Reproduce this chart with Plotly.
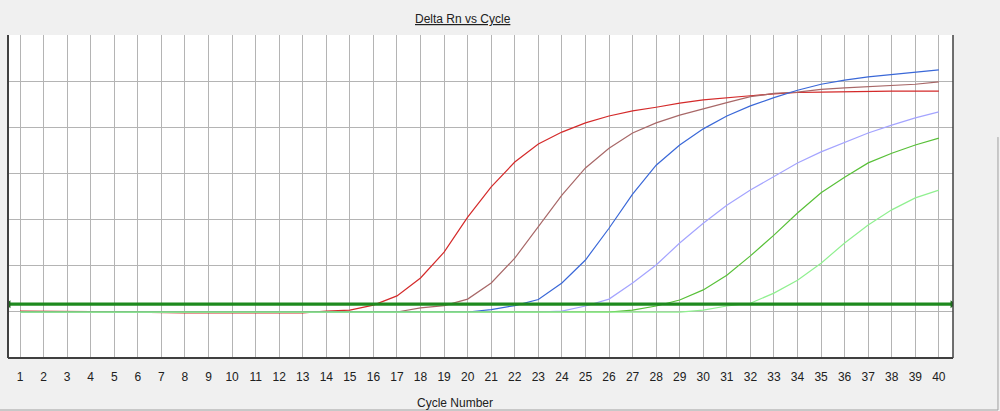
import plotly.graph_objects as go

cycles = list(range(1, 41))

red = [0.0, 0.0, 0.0, -0.01, -0.02, -0.03, -0.04, -0.04, -0.04, -0.04, -0.04, -0.04, -0.04, 0.0,
       0.02, 0.13, 0.33, 0.72, 1.28, 2.04, 2.70, 3.24, 3.63, 3.89, 4.09, 4.24, 4.35, 4.43, 4.52, 4.59,
       4.64, 4.68, 4.72, 4.75, 4.76, 4.77, 4.77, 4.78, 4.78, 4.78]
brown = [-0.02] * 16 + [-0.02, 0.07, 0.12, 0.26, 0.61, 1.15, 1.83, 2.52, 3.11, 3.54, 3.87, 4.09,
                        4.26, 4.40, 4.53, 4.66, 4.73, 4.76, 4.82, 4.85, 4.88, 4.91, 4.93, 4.98]
blue = [-0.02] * 18 + [-0.02, -0.02, 0.03, 0.12, 0.25, 0.61, 1.11, 1.80, 2.54, 3.17, 3.61, 3.96,
                       4.24, 4.46, 4.64, 4.80, 4.93, 5.02, 5.09, 5.14, 5.20, 5.24]
lavender = [-0.03] * 21 + [-0.03, -0.02, 0.0, 0.11, 0.26, 0.61, 1.00, 1.48, 1.91, 2.30, 2.63, 2.93,
                           3.22, 3.46, 3.67, 3.87, 4.04, 4.20, 4.33]
green = [-0.02] * 25 + [-0.02, 0.02, 0.11, 0.24, 0.46, 0.78, 1.20, 1.65, 2.13, 2.57, 2.91, 3.22,
                        3.43, 3.61, 3.76]
light_green = [-0.025] * 29 + [0.02, 0.11, 0.17, 0.39, 0.67, 1.04, 1.48, 1.87, 2.20, 2.46, 2.63]

threshold = 0.15
tick_labels = [str(c) for c in cycles]

series = [
    (red, "#d42a2a"),
    (brown, "#a86868"),
    (blue, "#3a68d8"),
    (lavender, "#a4a4ff"),
    (green, "#58c038"),
    (light_green, "#90f090"),
]

X_RANGE = [0.49, 40.6]
Y_RANGE = [-1.02, 6.0]

fig = go.Figure()
for vals, col in series:
    fig.add_trace(go.Scatter(x=cycles, y=vals, mode="lines",
                             line=dict(color=col, width=1.2), hoverinfo="skip",
                             showlegend=False))

# threshold line with arrowheads
tx = [X_RANGE[0] + 0.03, X_RANGE[1] - 0.03]
fig.add_trace(go.Scatter(x=tx, y=[threshold, threshold], mode="lines+markers",
                         line=dict(color="#1e8a1e", width=3.2),
                         marker=dict(symbol=["triangle-left", "triangle-right"], size=7,
                                     color="#1e6a1e"),
                         showlegend=False, hoverinfo="skip"))

fig.update_layout(
    width=1000, height=411,
    margin=dict(l=8, r=47, t=35, b=53),
    paper_bgcolor="#f0f0f0",
    plot_bgcolor="white",
    font=dict(family="Liberation Sans, Arial, sans-serif", size=12, color="#202020"),
    showlegend=False,
)
fig.update_xaxes(range=X_RANGE, tickmode="array", tickvals=cycles, ticktext=tick_labels,
                 showgrid=True, gridcolor="#b4b4b4", gridwidth=1, zeroline=False,
                 ticks="", ticklabelstandoff=10, showline=False,
                 tickfont=dict(size=12, color="#202020"))
fig.update_yaxes(range=Y_RANGE, dtick=1, tick0=0, showgrid=True, gridcolor="#b4b4b4",
                 gridwidth=1, zeroline=False, showticklabels=False, ticks="", showline=False)

# plot borders
border = "#404040"
fig.add_shape(type="line", xref="paper", yref="paper", x0=0, x1=0, y0=0, y1=1,
              line=dict(color=border, width=2))
fig.add_shape(type="line", xref="paper", yref="paper", x0=0, x1=1, y0=0, y1=0,
              line=dict(color=border, width=2))
fig.add_shape(type="line", xref="paper", yref="paper", x0=1, x1=1, y0=0, y1=1,
              line=dict(color=border, width=1.5))
# window frame lines
fig.add_shape(type="line", xref="paper", yref="paper", x0=-0.01, x1=1.0476, y0=-0.161, y1=-0.161,
              line=dict(color="#a0a0a0", width=1))
fig.add_shape(type="line", xref="paper", yref="paper", x0=1.0476, x1=1.0476, y0=-0.161, y1=0.684,
              line=dict(color="#a0a0a0", width=1))

fig.add_annotation(text="<u>Delta Rn vs Cycle</u>", xref="paper", yref="paper",
                   x=0.4815, y=1.0495, showarrow=False, xanchor="center", yanchor="middle",
                   font=dict(size=12, color="#202020"))
fig.add_annotation(text="Cycle Number", xref="paper", yref="paper",
                   x=0.473, y=-0.139, showarrow=False, xanchor="center", yanchor="middle",
                   font=dict(size=12, color="#202020"))

fig.write_html("out.html")
